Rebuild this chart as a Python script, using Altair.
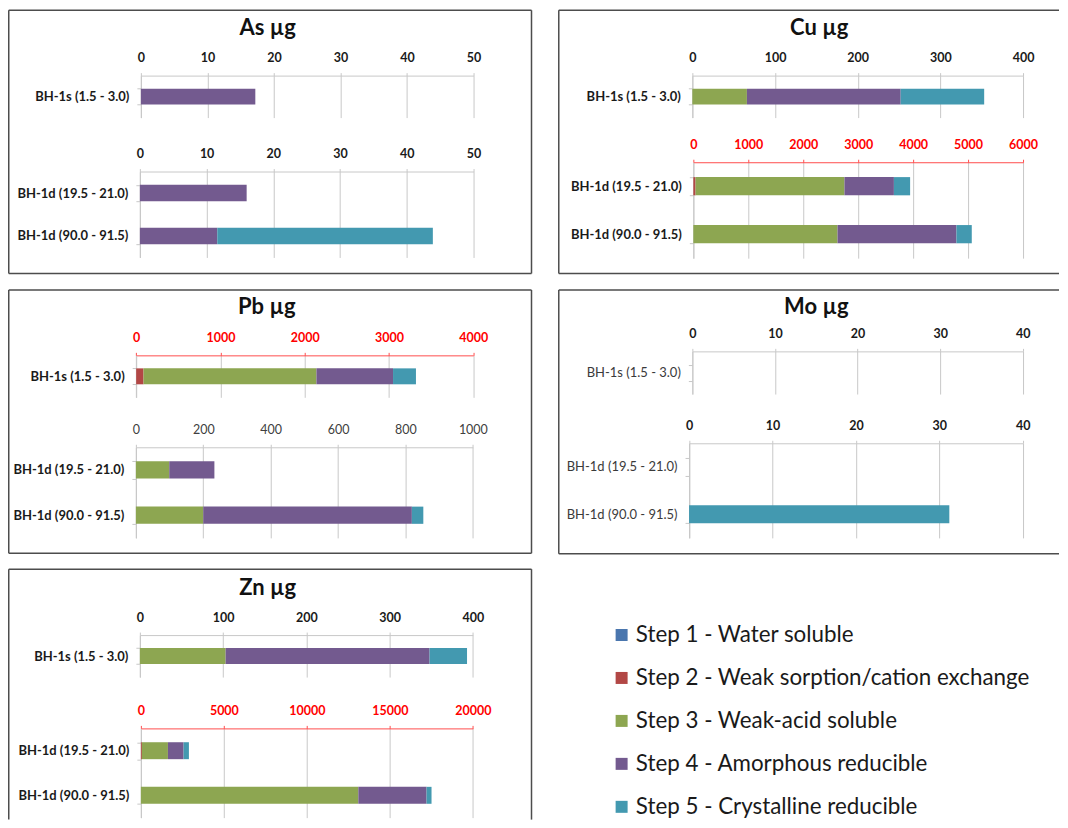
import altair as alt
import pandas as pd

STEPS = [
    "Step 1 - Water soluble",
    "Step 2 - Weak sorption/cation exchange",
    "Step 3 - Weak-acid soluble",
    "Step 4 - Amorphous reducible",
    "Step 5 - Crystalline reducible",
]
STEP_COLORS = ["#4A76AE", "#B24745", "#8DA651", "#735A8F", "#4399B0"]

TOP_SAMPLES = ["BH-1s (1.5 - 3.0)"]
BOTTOM_SAMPLES = ["BH-1d (19.5 - 21.0)", "BH-1d (90.0 - 91.5)"]
TITLES = ["As µg", "Cu µg", "Pb µg", "Mo µg", "Zn µg"]

# values (µg) for steps 1..5, one list per sample
AS_TOP = [[0, 0, 0, 17.2, 0]]
AS_BOTTOM = [[0, 0, 0, 16.0, 0], [0, 0, 0, 11.6, 32.3]]
CU_TOP = [[0, 0, 66, 186, 101]]
CU_BOTTOM = [[0, 40, 2710, 900, 295], [0, 0, 2624, 2164, 279]]
PB_TOP = [[0, 87, 2052, 909, 272]]
PB_BOTTOM = [[0, 0, 99, 134, 0], [0, 0, 200, 619, 34]]
MO_TOP = [[0, 0, 0, 0, 0]]
MO_BOTTOM = [[0, 0, 0, 0, 0], [0, 0, 0, 0, 31.2]]
ZN_TOP = [[0, 0, 103, 245, 45]]
ZN_BOTTOM = [[0, 60, 1570, 943, 321], [0, 0, 13100, 4110, 300]]

AS_TOP_TICKS = [0, 10, 20, 30, 40, 50]
AS_BOTTOM_TICKS = [0, 10, 20, 30, 40, 50]
CU_TOP_TICKS = [0, 100, 200, 300, 400]
CU_BOTTOM_TICKS = [0, 1000, 2000, 3000, 4000, 5000, 6000]
PB_TOP_TICKS = [0, 1000, 2000, 3000, 4000]
PB_BOTTOM_TICKS = [0, 200, 400, 600, 800, 1000]
MO_TOP_TICKS = [0, 10, 20, 30, 40]
MO_BOTTOM_TICKS = [0, 10, 20, 30, 40]
ZN_TOP_TICKS = [0, 100, 200, 300, 400]
ZN_BOTTOM_TICKS = [0, 5000, 10000, 15000, 20000]

FONT = "Lato"
GRID = "#c8c8c8"
BORDER = "#4d4d4d"
W, H = 1052, 805
DY = -6  # vertical layout shift of all panel content


def table(samples, values):
    rows = []
    for s, vals in zip(samples, values):
        for i, (step, v) in enumerate(zip(STEPS, vals)):
            rows.append({"sample": s, "step": step, "k": i, "value": v})
    return pd.DataFrame(rows)


def block(samples, values, ticks, xr, yr, axis_style="bold", ylabel_bold=True, legend=None):
    yr = (yr[0] + DY, yr[1] + DY)
    if axis_style == "red":
        lab_color, lab_weight, dom_color = "#ff0000", "bold", "#ff4d4d"
    elif axis_style == "plain":
        lab_color, lab_weight, dom_color = "#404040", "normal", GRID
    else:
        lab_color, lab_weight, dom_color = "#1a1a1a", "bold", GRID
    xaxis = alt.Axis(
        orient="top", offset=-yr[0], values=ticks, format="d", title=None,
        grid=True, gridColor=GRID, gridWidth=1,
        domainColor=dom_color, domainWidth=1,
        ticks=True, tickSize=3, tickColor=dom_color,
        labelColor=lab_color, labelFontWeight=lab_weight, labelFontSize=12.5,
        labelFont=FONT, labelPadding=8, labelFlush=False, labelOverlap=False,
        minExtent=0, maxExtent=0,
    )
    yaxis = alt.Axis(
        orient="left", offset=-xr[0], title=None, grid=False,
        domainColor=GRID, ticks=True, tickSize=4, tickColor=GRID, tickBand="extent",
        labelColor="#1a1a1a" if ylabel_bold else "#3a3a3a",
        labelFontWeight="bold" if ylabel_bold else "normal",
        labelFontSize=13, labelFont=FONT, labelPadding=8,
        minExtent=0, maxExtent=0,
    )
    return alt.Chart(table(samples, values)).mark_bar().encode(
        x=alt.X("value:Q", stack="zero",
                scale=alt.Scale(domain=[ticks[0], ticks[-1]], range=list(xr), nice=False),
                axis=xaxis),
        y=alt.Y("sample:N",
                scale=alt.Scale(domain=samples, range=list(yr), paddingInner=0.62, paddingOuter=0.31),
                axis=yaxis),
        color=alt.Color("step:N", scale=alt.Scale(domain=STEPS, range=STEP_COLORS), legend=legend),
        order=alt.Order("k:Q"),
    )


def title_text(text, x, y):
    return alt.Chart(pd.DataFrame({"title": [text]})).mark_text(
        font=FONT, fontSize=22, fontWeight="bold", color="#111111",
        baseline="middle", align="center",
    ).encode(text="title:N", x=alt.value(x), y=alt.value(y + DY))


def frame(x0, x1, y0, y1, open_side=None):
    src = pd.DataFrame({"edge": [0]})
    y0 = y0 + DY
    y1 = y1 + DY if open_side != "bottom" else H
    out = []
    if open_side != "top":
        out.append(dict(x=alt.value(x0), x2=alt.value(x1), y=alt.value(y0)))
    if open_side != "bottom":
        out.append(dict(x=alt.value(x0), x2=alt.value(x1), y=alt.value(y1)))
    if open_side != "left":
        out.append(dict(x=alt.value(x0), y=alt.value(y0), y2=alt.value(y1)))
    if open_side != "right":
        out.append(dict(x=alt.value(x1), y=alt.value(y0), y2=alt.value(y1)))
    return [alt.Chart(src).mark_rule(color=BORDER, strokeWidth=1.5).encode(**e) for e in out]


LEGEND = alt.Legend(
    orient="none", legendX=603, legendY=615 + DY, title=None,
    labelFont=FONT, labelFontSize=22.4, labelColor="#1a1a1a", labelLimit=600,
    symbolType="square", symbolSize=144, symbolStrokeWidth=0,
    rowPadding=20, labelOffset=3, padding=0,
)

layers = []
# panel frames
layers += frame(0.75, 524, 0.75, 264.3)
layers += frame(551.3, W, 0.75, 264.3, open_side="right")
layers += frame(0.75, 524, 281, 544.3)
layers += frame(551.3, W, 281, 545, open_side="right")
layers += frame(0.75, 524, 560.3, H, open_side="bottom")
# panel titles
layers += [
    title_text(TITLES[0], 260, 19),
    title_text(TITLES[1], 812, 19),
    title_text(TITLES[2], 259, 298),
    title_text(TITLES[3], 809, 298),
    title_text(TITLES[4], 260, 579),
]
# stacked bar blocks
layers += [
    block(TOP_SAMPLES, AS_TOP, AS_TOP_TICKS, (133, 466), (66.3, 108.3), legend=LEGEND),
    block(BOTTOM_SAMPLES, AS_BOTTOM, AS_BOTTOM_TICKS, (132, 466), (162.3, 248.3)),
    block(TOP_SAMPLES, CU_TOP, CU_TOP_TICKS, (685, 1016), (66.3, 108.3)),
    block(BOTTOM_SAMPLES, CU_BOTTOM, CU_BOTTOM_TICKS, (686, 1016), (153, 249), axis_style="red"),
    block(TOP_SAMPLES, PB_TOP, PB_TOP_TICKS, (128.3, 465.7), (346.3, 388.3), axis_style="red"),
    block(BOTTOM_SAMPLES, PB_BOTTOM, PB_BOTTOM_TICKS, (128, 465.3), (438.3, 529), axis_style="plain"),
    block(TOP_SAMPLES, MO_TOP, MO_TOP_TICKS, (685, 1015.7), (342.3, 385), ylabel_bold=False),
    block(BOTTOM_SAMPLES, MO_BOTTOM, MO_BOTTOM_TICKS, (681.7, 1015.7), (434.3, 529), ylabel_bold=False),
    block(TOP_SAMPLES, ZN_TOP, ZN_TOP_TICKS, (132, 465.3), (626.3, 668.3)),
    block(BOTTOM_SAMPLES, ZN_BOTTOM, ZN_BOTTOM_TICKS, (133, 465.3), (719.7, 809), axis_style="red"),
]

chart = alt.layer(*layers).resolve_scale(
    x="independent", y="independent"
).properties(
    width=W, height=H,
    padding={"left": 0, "top": 1, "right": 0, "bottom": 0},
    background="white",
).configure_view(
    stroke="transparent",
)

chart.save("out.html", embed_options={"renderer": "svg", "actions": False})
